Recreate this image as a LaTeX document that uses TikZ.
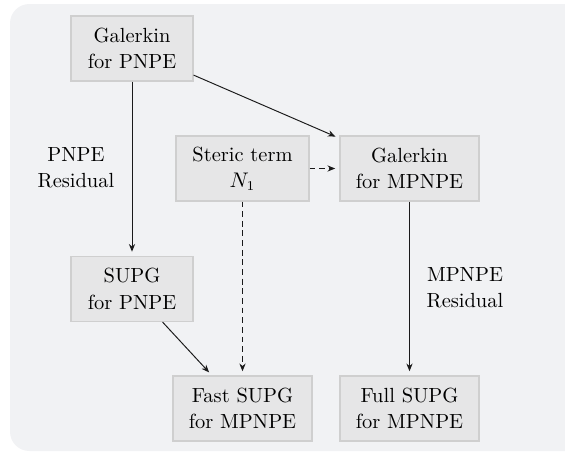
\documentclass[tikz,border=0pt]{standalone}
\usetikzlibrary{arrows.meta}
\definecolor{bgc}{HTML}{F1F2F4}
\definecolor{boxc}{HTML}{E6E6E7}
\definecolor{boxd}{HTML}{CFCFCF}
\definecolor{arc}{HTML}{1A1A1A}
\begin{document}
\begin{tikzpicture}[x=0.518pt,y=-0.518pt,
  boxnode/.style={draw=boxd,fill=boxc,line width=0.6pt,minimum height=33.6pt,align=center,inner sep=1pt,font=\fontsize{10.6}{13.6}\selectfont},
  lbl/.style={align=center,font=\fontsize{10.6}{13.6}\selectfont},
  arr/.style={draw=arc,line width=0.5pt,-{Stealth[length=4pt,width=3.2pt]},shorten >=2.2pt},
  darr/.style={arr,dash pattern=on 3pt off 2pt}]
\useasboundingbox (0,0) rectangle (565,453);
\fill[bgc,rounded corners=10pt] (10,4) rectangle (585,451);
\node[boxnode,minimum width=63.2pt] (gp) at (132,48.5) {Galerkin\\for PNPE};
\node[boxnode,minimum width=68.9pt] (st) at (242.5,168.5) {Steric term\\$N_1$};
\node[boxnode,minimum width=72pt] (gm) at (409.5,168.5) {Galerkin\\for MPNPE};
\node[boxnode,minimum width=63.2pt] (sp) at (132,289) {SUPG\\for PNPE};
\node[boxnode,minimum width=72pt] (fs) at (242.5,408.5) {Fast SUPG\\for MPNPE};
\node[boxnode,minimum width=72pt] (fu) at (409.5,408.5) {Full SUPG\\for MPNPE};
\node[lbl] (l1) at (76,168) {PNPE\\Residual};
\node[lbl] (l2) at (465,288) {MPNPE\\Residual};
\draw[arr] (gp) -- (sp);
\draw[arr] (gp) -- (gm);
\draw[darr] (st) -- (gm);
\draw[darr] (st) -- (fs);
\draw[arr] (sp) -- (fs);
\draw[arr] (gm) -- (fu);
\end{tikzpicture}
\end{document}
